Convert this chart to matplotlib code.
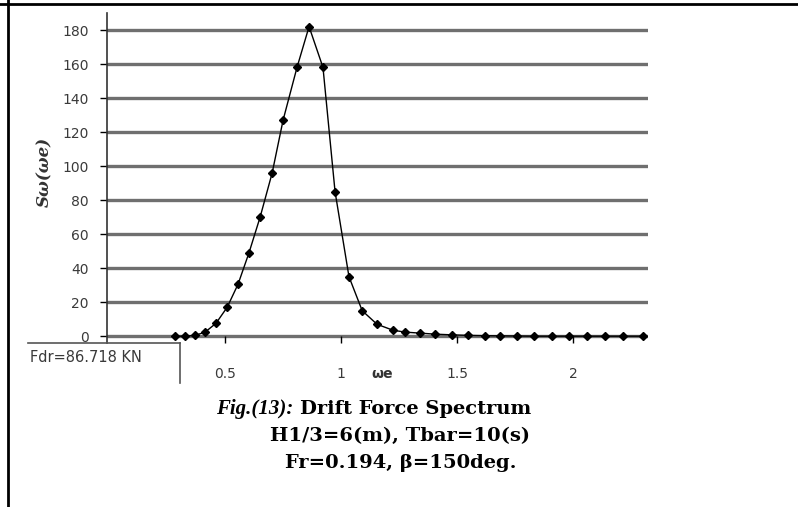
"""
    Drift force spectrum figure (Fig. 13)
"""

import matplotlib.pyplot as plt
from matplotlib.lines import Line2D

# encounter frequency and spectral ordinates
omega_e = [0.284, 0.328, 0.371, 0.414, 0.461, 0.509, 0.556, 0.603, 0.651, 0.703,
           0.750, 0.810, 0.862, 0.922, 0.974, 1.034, 1.091, 1.155, 1.224, 1.276,
           1.341, 1.405, 1.478, 1.547, 1.621, 1.685, 1.759, 1.832, 1.909, 1.983,
           2.060, 2.138, 2.216, 2.302]
s_omega = [0.0, 0.0, 0.5, 2.4, 7.6, 17.0, 30.6, 49.0, 70.0, 96.0,
           127.0, 158.0, 182.0, 158.0, 85.0, 35.0, 15.0, 7.0, 3.5, 2.4,
           1.8, 1.2, 0.8, 0.5, 0.3, 0.2, 0.1, 0.0, 0.0, 0.0,
           0.0, 0.0, 0.0, 0.0]

y_ticks = [0, 20, 40, 60, 80, 100, 120, 140, 160, 180]
x_ticks = [0.5, 1, 1.5, 2]
x_tick_labels = ["0.5", "1", "1.5", "2"]

sans = ["DejaVu Sans"]
serif = ["DejaVu Serif"]
times = ["Liberation Serif", "DejaVu Serif"]

fig = plt.figure(figsize=(7.98, 5.07), dpi=100)
ax = fig.add_axes([107 / 798, 1 - 343 / 507, (648 - 107) / 798, 330 / 507])

for yv in y_ticks:
    ax.axhline(yv, color="#6f6f6f", lw=2.4, zorder=1)

ax.plot(omega_e, s_omega, color="black", lw=1.0, marker="D", ms=4,
        markeredgecolor="black", zorder=3)

ax.set_xlim(-0.009, 2.323)
ax.set_ylim(-4, 190)
ax.set_yticks(y_ticks)
ax.set_xticks(x_ticks)
ax.set_xticklabels(x_tick_labels)

for side in ["top", "right", "bottom"]:
    ax.spines[side].set_visible(False)
ax.spines["left"].set_color("#333333")
ax.spines["left"].set_linewidth(1.2)

ax.tick_params(axis="y", direction="out", length=5, width=1, pad=8,
               labelsize=10, labelcolor="#3a3a3a")
ax.tick_params(axis="x", direction="in", length=5, width=1, pad=17,
               labelsize=10, labelcolor="#3a3a3a")
for lab in ax.get_xticklabels() + ax.get_yticklabels():
    lab.set_family(sans)

ax.text(1.177, -22.5, "ωe", ha="center", va="center", fontsize=10,
        fontweight="bold", color="#333333", clip_on=False)

fig.text(45 / 798, 1 - 172 / 507, "Sω(ωe)", rotation=90, ha="center",
         va="center", fontsize=12, fontweight="bold", fontstyle="italic",
         family=serif, color="#333333")

# Fdr box
fig.add_artist(Line2D([28 / 798, 180 / 798], [1 - 343 / 507, 1 - 343 / 507],
                      color="#555555", lw=1.2))
fig.add_artist(Line2D([180 / 798, 180 / 798], [1 - 343 / 507, 1 - 383 / 507],
                      color="#555555", lw=1.2))
fig.text(30 / 798, 1 - 357 / 507, "Fdr=86.718 KN", ha="left", va="center",
         fontsize=10.5, family=sans, color="#3a3a3a")

# caption
fig.text(293 / 798, 1 - 409 / 507, "Fig.(13):", ha="right", va="center",
         fontsize=15, fontweight="bold", fontstyle="italic", family=times)
fig.text(300 / 798, 1 - 409 / 507, "Drift Force Spectrum", ha="left",
         va="center", fontsize=14, fontweight="bold", family=serif)
fig.text(400 / 798, 1 - 436 / 507, "H1/3=6(m), Tbar=10(s)", ha="center",
         va="center", fontsize=14, fontweight="bold", family=serif)
fig.text(401 / 798, 1 - 463 / 507, "Fr=0.194, β=150deg.", ha="center",
         va="center", fontsize=14, fontweight="bold", family=serif)

# outer frame lines
fig.add_artist(Line2D([8 / 798, 8 / 798], [0, 1], color="black", lw=2))
fig.add_artist(Line2D([0, 1], [1 - 4 / 507, 1 - 4 / 507], color="black", lw=2))

plt.savefig("out.png", dpi=100)
